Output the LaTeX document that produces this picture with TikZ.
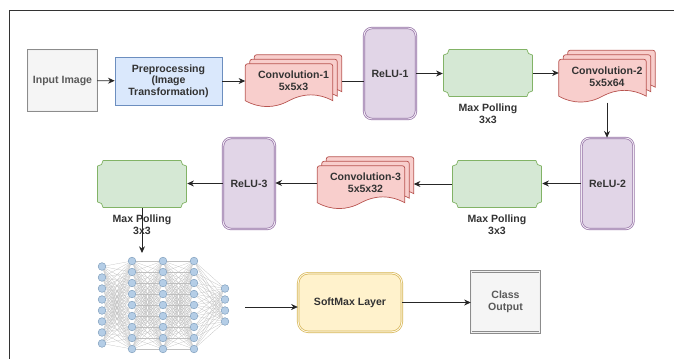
\documentclass[tikz,border=0pt]{standalone}
\usepackage{fontspec}
\setmainfont{Liberation Sans}
\usetikzlibrary{arrows.meta,positioning,calc,backgrounds}
\definecolor{txt}{HTML}{333333}
\definecolor{iofill}{HTML}{F5F5F5}
\definecolor{prepfill}{HTML}{DAE8FC}
\definecolor{prepline}{HTML}{6C8EBF}
\definecolor{convfill}{HTML}{F8CECC}
\definecolor{convline}{HTML}{B85450}
\definecolor{relufill}{HTML}{E1D5E7}
\definecolor{reluline}{HTML}{9673A6}
\definecolor{poolfill}{HTML}{D5E8D4}
\definecolor{poolline}{HTML}{82B366}
\definecolor{smfill}{HTML}{FFF2CC}
\definecolor{smline}{HTML}{D6B656}
\definecolor{nnfill}{HTML}{B4CDE6}
\definecolor{nnline}{HTML}{7E9DBB}
\tikzset{
  base/.style={font=\fontsize{9}{10}\selectfont\bfseries,text=txt,align=center,inner sep=2pt},
  io/.style={base,text=black!65,draw=black!45,line width=.6pt,double=black!6,double distance=.8pt,
             fill=iofill,minimum width=2.06cm,minimum height=1.82cm},
  prep/.style={base,draw=prepline,line width=.6pt,fill=prepfill,minimum width=3.21cm,minimum height=1.44cm},
  relu/.style={base,draw=reluline,line width=.6pt,double=relufill!50,double distance=.8pt,fill=relufill,
               rounded corners=.24cm,minimum width=1.56cm,minimum height=2.73cm},
  conv/.style={base,minimum width=2.88cm,minimum height=1.56cm},
  convdoc/.style={draw=convline,fill=convfill,line width=.6pt},
  pool/.style={base,minimum width=2.7cm,minimum height=1.44cm,
    path picture={
      \draw[draw=poolline,fill=poolfill,line width=.6pt]
        let \p1=($(path picture bounding box.south west)+(.4pt,.4pt)$),
            \p2=($(path picture bounding box.north east)+(-.4pt,-.4pt)$) in
        ({\x1+.17cm},\y2) -- ({\x2-.17cm},\y2) arc[start angle=180,end angle=270,radius=.17cm]
        -- (\x2,{\y1+.17cm}) arc[start angle=90,end angle=180,radius=.17cm]
        -- ({\x1+.17cm},\y1) arc[start angle=0,end angle=90,radius=.17cm]
        -- (\x1,{\y2-.17cm}) arc[start angle=-90,end angle=0,radius=.17cm] -- cycle;
    }},
  poollbl/.style={base,inner sep=0pt},
  smax/.style={base,draw=smline,line width=.6pt,double=smfill!50,double distance=.8pt,fill=smfill,
               rounded corners=.3cm,minimum width=3.11cm,minimum height=1.76cm},
  neuron/.style={circle,draw=nnline,line width=.4pt,fill=nnfill,inner sep=0pt,minimum size=.23cm},
  nnedge/.style={draw=black!25,line width=.2pt},
  ar/.style={-{Stealth[length=2mm,width=1.8mm]},line width=.7pt,draw=black!85},
  ln/.style={line width=.7pt,draw=black!85},
  frame/.style={draw=black!80,line width=.8pt},
}
\begin{document}
\begin{tikzpicture}[x=0.03cm,y=-0.03cm]
  \useasboundingbox (0,0) rectangle (674,359);
  \draw[frame] (674,10) -- (9,10) -- (9,359);

  % first row
  \node[io]   (input) at (62.5,80.5) {Input Image};
  \node[prep] (prep)  at (168.5,81)  {Preprocessing\\(Image\\Transformation)};
  \node[conv] (conv1) at (293.5,81)  {Convolution-1\\5x5x3};
  \node[relu] (relu1) at (390,73.5)  {ReLU-1};
  \node[pool] (pool1) at (488,73)    {};
  \node[conv] (conv2) at (607,76.5)  {Convolution-2\\5x5x64};

  % second row
  \node[relu] (relu2) at (607.5,183.5) {ReLU-2};
  \node[pool] (pool2) at (497,184)     {};
  \node[conv] (conv3) at (365.5,183)   {Convolution-3\\5x5x32};
  \node[relu] (relu3) at (249,183.5)   {ReLU-3};
  \node[pool] (pool3) at (142,184)     {};

  \node[poollbl,below=.2cm of pool1] (pool1lbl) {Max Polling\\3x3};
  \node[poollbl,below=.2cm of pool2] (pool2lbl) {Max Polling\\3x3};
  \node[poollbl,below=.2cm of pool3] (pool3lbl) {Max Polling\\3x3};

  % third row
  \foreach \c/\xx/\m in {1/102/8,2/132/9,3/163/9,4/194/9,5/225/4}
    \foreach \i in {1,...,\m}
      \node[neuron] (n\c-\i) at (\xx,{305+(\i-(\m+1)/2)*11}) {};
  \coordinate (nnin)  at (142,253);
  \coordinate (nnout) at (245,307);
  \node[smax] (smax)     at (350,302.5) {SoftMax Layer};
  \node[io]   (classout) at (505.5,302) {Class\\Output};

  % connectors
  \draw[ar] (input) -- (prep);
  \draw[ar] (prep.east) -- (prep.east -| conv1.west);
  \draw[ln] (conv1.east) -- (conv1.east -| relu1.west);
  \draw[ar] (relu1.east) -- (relu1.east -| pool1.west);
  \draw[ar] (pool1.east) -- (pool1.east -| conv2.west);
  \draw[ar] (conv2.south) -- (conv2.south |- relu2.north);
  \draw[ar] (relu2.west) -- (relu2.west -| pool2.east);
  \draw[ar] (pool2.west) -- (pool2.west -| conv3.east);
  \draw[ar] (conv3.west) -- (conv3.west -| relu3.east);
  \draw[ar] (relu3.west) -- (relu3.west -| pool3.east);
  \draw[ar] (pool3.south) -- (nnin);
  \draw[ar] (nnout) -- (nnout -| smax.west);
  \draw[ar] (smax.east) -- (smax.east -| classout.west);

  \begin{scope}[on background layer]
    \foreach \cv in {conv1,conv2,conv3}
      \foreach \k in {2,1,0}
        \draw[convdoc] let \p1=($(\cv.south west)+(\k*.135cm,\k*.135cm)$),
                           \p2=($(\cv.north east)+(\k*.135cm-.27cm,\k*.135cm-.27cm)$),
                           \n1={\x2-\x1},\n2={\y2-\y1} in
          [rounded corners=2pt] (\x1,{\y1+.15*\n2}) -- (\x1,\y2) -- (\x2,\y2) [sharp corners]
          -- (\x2,{\y1+.15*\n2})
          .. controls ({\x1+.8333*\n1},{\y1+.33*\n2}) and ({\x1+.6667*\n1},{\y1+.33*\n2}) .. ({\x1+.5*\n1},{\y1+.15*\n2})
          .. controls ({\x1+.3333*\n1},{\y1-.03*\n2}) and ({\x1+.1667*\n1},{\y1-.03*\n2}) .. (\x1,{\y1+.15*\n2})
          -- cycle;
    \foreach \a/\ma/\b/\mb in {1/8/2/9,2/9/3/9,3/9/4/9,4/9/5/4}
      \foreach \i in {1,...,\ma}
        \foreach \j in {1,...,\mb}
          \draw[nnedge] (n\a-\i) -- (n\b-\j);
  \end{scope}
\end{tikzpicture}
\end{document}
